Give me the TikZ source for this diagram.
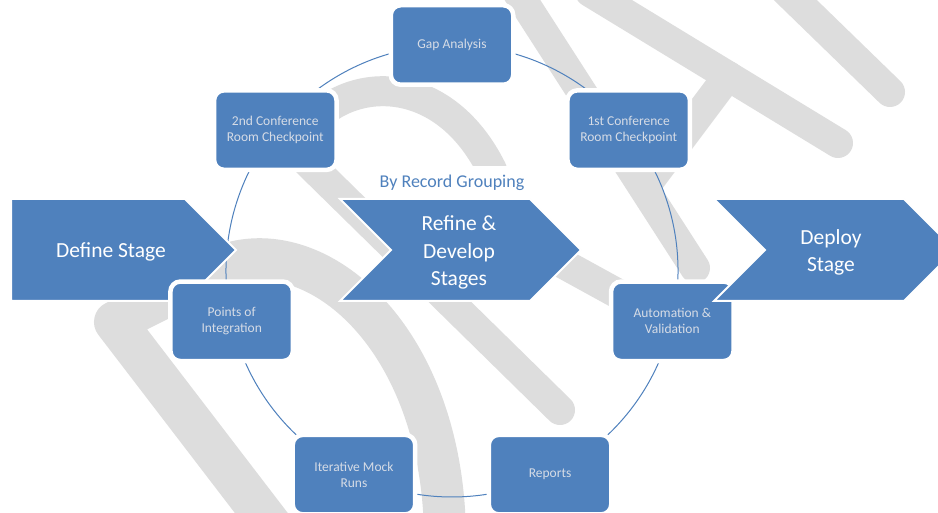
\documentclass[tikz,border=0pt]{standalone}
\usepackage{fontspec}
\setmainfont{Carlito}

\definecolor{officeblue}{RGB}{79,129,189}
\definecolor{markgray}{RGB}{221,221,221}
\definecolor{labelgray}{RGB}{214,220,230}

\pgfdeclarelayer{watermark}
\pgfdeclarelayer{ring}
\pgfsetlayers{watermark,ring,main}

\begin{document}
\begin{tikzpicture}[x=1pt,y=1pt,
    phase node/.style={rectangle,rounded corners=10pt,fill=officeblue,draw=white,line width=4.5pt,minimum width=122.5pt,minimum height=79.5pt,align=center,text=labelgray,font=\fontsize{13.5}{16}\selectfont},
    stage arrow/.style={fill=officeblue,draw=white,line width=2pt},
    stage text/.style={text=white,align=center,font=\fontsize{21.5}{27.5}\selectfont},
    group label/.style={fill=white,text=officeblue,minimum height=34pt,font=\fontsize{18}{20}\selectfont},
    wm stroke/.style={draw=markgray,line width=30pt,line cap=round,line join=round},
    ring arc/.style={draw=officeblue,line width=1pt}]

    \useasboundingbox (0,0) rectangle (938,-513);

    % watermark letters
    \begin{pgfonlayer}{watermark}
        \fill[white] (0,0) rectangle (938,-513);
        \draw[wm stroke,line width=42pt] (282,-540) -- (115,-322) -- (235,-262) .. controls (330,-240) and (445,-350) .. (445,-540);
        \draw[wm stroke] (295,-150) -- (560,-410);
        \draw[wm stroke] (312,-122) .. controls (355,-75) and (445,-75) .. (492,-170) -- (497,-185);
        \draw[wm stroke] (520,-240) -- (622,-296);
        \draw[wm stroke] (516,10) -- (695,-268);
        \draw[wm stroke] (590,8) -- (838,-143);
        \draw[wm stroke] (728,-76) -- (650,-180);
        \draw[wm stroke] (785,10) -- (890,-92);
    \end{pgfonlayer}

    \coordinate (ctr) at (452,-271);

    \path[stage arrow] (11,-199) -- (185,-199) -- (236,-250) -- (185,-301) -- (11,-301) -- cycle;

    \node[phase node] (gap)     at ([shift={(90:226)}]ctr)     {Gap Analysis};
    \node[phase node] (conf2)   at ([shift={(141.43:226)}]ctr) {2nd Conference\\Room Checkpoint};
    \node[phase node] (points)  at ([shift={(192.86:226)}]ctr) {Points of\\Integration};
    \node[phase node] (mock)    at ([shift={(244.29:226)}]ctr) {Iterative Mock\\Runs};
    \node[phase node] (reports) at ([shift={(295.71:226)}]ctr) {Reports};
    \node[phase node] (autom)   at ([shift={(347.14:226)}]ctr) {Automation \&\\Validation};
    \node[phase node] (conf1)   at ([shift={(38.57:226)}]ctr)  {1st Conference\\Room Checkpoint};

    \path[stage arrow] (340,-199) -- (530,-199) -- (581,-250) -- (530,-301) -- (340,-301) -- (391,-250) -- cycle;
    \path[stage arrow] (714,-199) -- (904,-199) -- (955,-250) -- (904,-301) -- (714,-301) -- (765,-250) -- cycle;

    \node[stage text] (define) at (111,-252)   {Define Stage};
    \node[stage text] (refine) at (459,-252.5) {Refine \&\\Develop\\Stages};
    \node[stage text] (deploy) at (831,-252.5) {Deploy\\Stage};
    \node[group label] (grouping) at (452,-183) {By Record Grouping};

    % ring between the phases
    \begin{pgfonlayer}{ring}
        \path[ring arc,every edge/.style={draw,bend right=25.7,looseness=0.9}]
            (gap.center) edge (conf2.center)
            (conf2.center) edge (points.center)
            (points.center) edge (mock.center)
            (mock.center) edge (reports.center)
            (reports.center) edge (autom.center)
            (autom.center) edge (conf1.center)
            (conf1.center) edge (gap.center)
            ;
    \end{pgfonlayer}
\end{tikzpicture}
\end{document}
